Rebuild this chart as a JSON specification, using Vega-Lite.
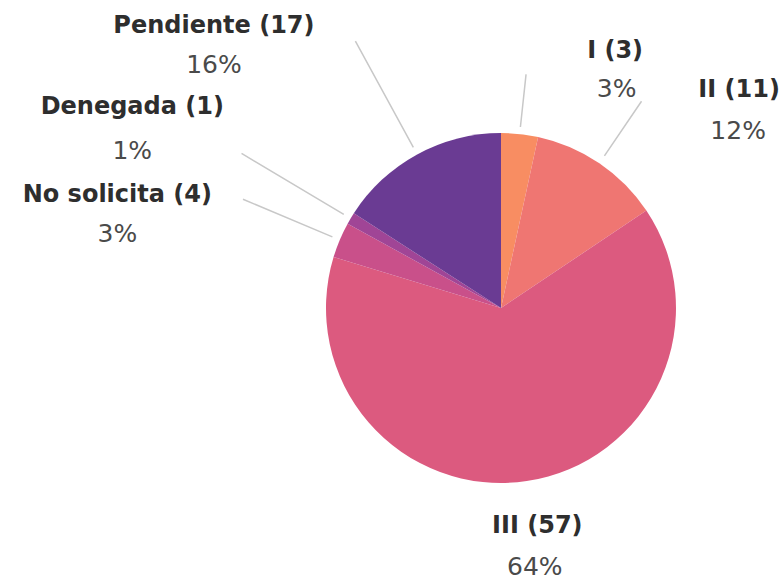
{
  "$schema": "https://vega.github.io/schema/vega-lite/v6.json",
  "autosize": {"type": "none"},
  "width": 500,
  "height": 500,
  "padding": {"left": 251, "top": 58, "right": 31, "bottom": 23},
  "background": "white",
  "config": {"view": {"stroke": null}},
  "data": {
    "values": [
      {"cat": "I", "name": "I (3)", "pct": "3%", "share": 3.4, "ord": 1},
      {"cat": "II", "name": "II (11)", "pct": "12%", "share": 12.2, "ord": 2},
      {"cat": "III", "name": "III (57)", "pct": "64%", "share": 64.1, "ord": 3},
      {"cat": "No solicita", "name": "No solicita (4)", "pct": "3%", "share": 3.3, "ord": 4},
      {"cat": "Denegada", "name": "Denegada (1)", "pct": "1%", "share": 1.1, "ord": 5},
      {"cat": "Pendiente", "name": "Pendiente (17)", "pct": "16%", "share": 15.9, "ord": 6}
    ]
  },
  "encoding": {
    "theta": {"field": "share", "type": "quantitative", "stack": true},
    "order": {"field": "ord", "type": "quantitative"},
    "detail": {"field": "cat", "type": "nominal"}
  },
  "layer": [
    {
      "mark": {"type": "arc", "radius": 175},
      "encoding": {
        "color": {
          "field": "cat", "type": "nominal", "legend": null,
          "scale": {
            "domain": ["I", "II", "III", "No solicita", "Denegada", "Pendiente"],
            "range": ["#f88d62", "#ef7672", "#dc5a7f", "#c9508a", "#a04596", "#6a3b93"]
          }
        }
      }
    },
    {"mark": {"type": "arc", "radius": 235, "radius2": 182, "padAngle": 3.1, "stroke": "#c8c8c8", "strokeWidth": 1.5, "fillOpacity": 0},
     "encoding": {"strokeOpacity": {"condition": {"test": "datum.cat === 'I'", "value": 1}, "value": 0}}},
    {"mark": {"type": "arc", "radius": 250, "radius2": 184, "padAngle": 3.1, "stroke": "#c8c8c8", "strokeWidth": 1.5, "fillOpacity": 0},
     "encoding": {"strokeOpacity": {"condition": {"test": "datum.cat === 'II'", "value": 1}, "value": 0}}},
    {"mark": {"type": "arc", "radius": 280, "radius2": 183, "padAngle": 3.1, "stroke": "#c8c8c8", "strokeWidth": 1.5, "fillOpacity": 0},
     "encoding": {"strokeOpacity": {"condition": {"test": "datum.cat === 'No solicita'", "value": 1}, "value": 0}}},
    {"mark": {"type": "arc", "radius": 302, "radius2": 183, "padAngle": 3.1, "stroke": "#c8c8c8", "strokeWidth": 1.5, "fillOpacity": 0},
     "encoding": {"strokeOpacity": {"condition": {"test": "datum.cat === 'Denegada'", "value": 1}, "value": 0}}},
    {"mark": {"type": "arc", "radius": 304, "radius2": 183, "padAngle": 3.1, "stroke": "#c8c8c8", "strokeWidth": 1.5, "fillOpacity": 0},
     "encoding": {"strokeOpacity": {"condition": {"test": "datum.cat === 'Pendiente'", "value": 1}, "value": 0}}},

    {"mark": {"type": "text", "radius": 240, "dx": 88.5, "dy": -18.5, "font": "DejaVu Sans", "fontWeight": "bold", "fontSize": 24, "color": "#2e2e2e", "align": "center", "baseline": "middle"},
     "encoding": {"text": {"condition": {"test": "datum.cat === 'I'", "field": "name", "type": "nominal"}, "value": ""}}},
    {"mark": {"type": "text", "radius": 240, "dx": 90, "dy": 19.5, "font": "DejaVu Sans", "fontSize": 25, "color": "#4a4a4a", "align": "center", "baseline": "middle"},
     "encoding": {"text": {"condition": {"test": "datum.cat === 'I'", "field": "pct", "type": "nominal"}, "value": ""}}},

    {"mark": {"type": "text", "radius": 260, "dx": 92, "dy": -2.7, "font": "DejaVu Sans", "fontWeight": "bold", "fontSize": 24, "color": "#2e2e2e", "align": "center", "baseline": "middle"},
     "encoding": {"text": {"condition": {"test": "datum.cat === 'II'", "field": "name", "type": "nominal"}, "value": ""}}},
    {"mark": {"type": "text", "radius": 260, "dx": 91, "dy": 38.3, "font": "DejaVu Sans", "fontSize": 25, "color": "#4a4a4a", "align": "center", "baseline": "middle"},
     "encoding": {"text": {"condition": {"test": "datum.cat === 'II'", "field": "pct", "type": "nominal"}, "value": ""}}},

    {"mark": {"type": "text", "radius": 230, "dx": 2.5, "dy": -9.5, "font": "DejaVu Sans", "fontWeight": "bold", "fontSize": 24, "color": "#2e2e2e", "align": "center", "baseline": "middle"},
     "encoding": {"text": {"condition": {"test": "datum.cat === 'III'", "field": "name", "type": "nominal"}, "value": ""}}},
    {"mark": {"type": "text", "radius": 230, "dx": 0, "dy": 32, "font": "DejaVu Sans", "fontSize": 25, "color": "#4a4a4a", "align": "center", "baseline": "middle"},
     "encoding": {"text": {"condition": {"test": "datum.cat === 'III'", "field": "pct", "type": "nominal"}, "value": ""}}},

    {"mark": {"type": "text", "radius": 330, "dx": -79.6, "dy": 15, "font": "DejaVu Sans", "fontWeight": "bold", "fontSize": 24, "color": "#2e2e2e", "align": "center", "baseline": "middle"},
     "encoding": {"text": {"condition": {"test": "datum.cat === 'No solicita'", "field": "name", "type": "nominal"}, "value": ""}}},
    {"mark": {"type": "text", "radius": 330, "dx": -79.6, "dy": 54, "font": "DejaVu Sans", "fontSize": 25, "color": "#4a4a4a", "align": "center", "baseline": "middle"},
     "encoding": {"text": {"condition": {"test": "datum.cat === 'No solicita'", "field": "pct", "type": "nominal"}, "value": ""}}},

    {"mark": {"type": "text", "radius": 330, "dx": -85.2, "dy": -32, "font": "DejaVu Sans", "fontWeight": "bold", "fontSize": 24, "color": "#2e2e2e", "align": "center", "baseline": "middle"},
     "encoding": {"text": {"condition": {"test": "datum.cat === 'Denegada'", "field": "name", "type": "nominal"}, "value": ""}}},
    {"mark": {"type": "text", "radius": 330, "dx": -85.2, "dy": 11.5, "font": "DejaVu Sans", "fontSize": 25, "color": "#4a4a4a", "align": "center", "baseline": "middle"},
     "encoding": {"text": {"condition": {"test": "datum.cat === 'Denegada'", "field": "pct", "type": "nominal"}, "value": ""}}},

    {"mark": {"type": "text", "radius": 310, "dx": -138.6, "dy": -9.5, "font": "DejaVu Sans", "fontWeight": "bold", "fontSize": 24, "color": "#2e2e2e", "align": "center", "baseline": "middle"},
     "encoding": {"text": {"condition": {"test": "datum.cat === 'Pendiente'", "field": "name", "type": "nominal"}, "value": ""}}},
    {"mark": {"type": "text", "radius": 310, "dx": -138.6, "dy": 29.5, "font": "DejaVu Sans", "fontSize": 25, "color": "#4a4a4a", "align": "center", "baseline": "middle"},
     "encoding": {"text": {"condition": {"test": "datum.cat === 'Pendiente'", "field": "pct", "type": "nominal"}, "value": ""}}}
  ]
}
